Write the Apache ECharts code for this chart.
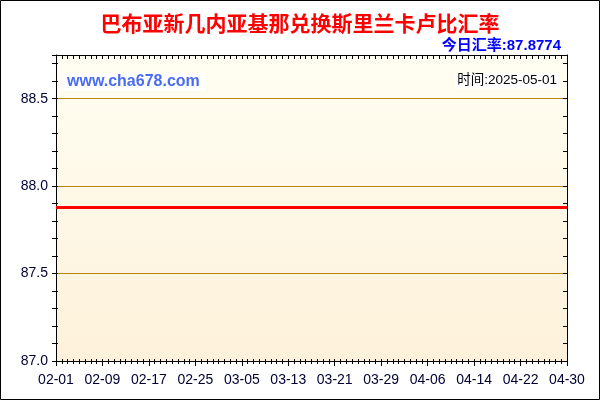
<!DOCTYPE html>
<html>
<head>
<meta charset="utf-8">
<script src="https://cdn.jsdelivr.net/npm/echarts@6/dist/echarts.min.js"></script>
<style>html,body{margin:0;padding:0;background:#fff;}#c{width:600px;height:400px;}</style>
</head>
<body>
<div id="c"></div>
<script>
var categories = [
'02-01','02-02','02-03','02-04','02-05','02-06','02-07','02-08','02-09','02-10',
'02-11','02-12','02-13','02-14','02-15','02-16','02-17','02-18','02-19','02-20',
'02-21','02-22','02-23','02-24','02-25','02-26','02-27','02-28',
'03-01','03-02','03-03','03-04','03-05','03-06','03-07','03-08','03-09','03-10',
'03-11','03-12','03-13','03-14','03-15','03-16','03-17','03-18','03-19','03-20',
'03-21','03-22','03-23','03-24','03-25','03-26','03-27','03-28','03-29','03-30','03-31',
'04-01','04-02','04-03','04-04','04-05','04-06','04-07','04-08','04-09','04-10',
'04-11','04-12','04-13','04-14','04-15','04-16','04-17','04-18','04-19','04-20',
'04-21','04-22','04-23','04-24','04-25','04-26','04-27','04-28','04-29','04-30'
];
var rates = [
87.8774,87.8774,87.8774,87.8774,87.8774,87.8774,87.8774,87.8774,87.8774,87.8774,
87.8774,87.8774,87.8774,87.8774,87.8774,87.8774,87.8774,87.8774,87.8774,87.8774,
87.8774,87.8774,87.8774,87.8774,87.8774,87.8774,87.8774,87.8774,
87.8774,87.8774,87.8774,87.8774,87.8774,87.8774,87.8774,87.8774,87.8774,87.8774,
87.8774,87.8774,87.8774,87.8774,87.8774,87.8774,87.8774,87.8774,87.8774,87.8774,
87.8774,87.8774,87.8774,87.8774,87.8774,87.8774,87.8774,87.8774,87.8774,87.8774,87.8774,
87.8774,87.8774,87.8774,87.8774,87.8774,87.8774,87.8774,87.8774,87.8774,87.8774,
87.8774,87.8774,87.8774,87.8774,87.8774,87.8774,87.8774,87.8774,87.8774,87.8774,
87.8774,87.8774,87.8774,87.8774,87.8774,87.8774,87.8774,87.8774,87.8774,87.8774
];
var yMin = 87.0, yMax = 88.75;
var titleText = '巴布亚新几内亚基那兑换斯里兰卡卢比汇率';
var todayText = '今日汇率:87.8774';
var siteText = 'www.cha678.com';
var timeText = '时间:2025-05-01';

var FONT = '"Liberation Sans", Arial, "Noto Sans CJK SC", sans-serif';
var chart = echarts.init(document.getElementById('c'), null, {renderer: 'canvas'});
var black = '#000';
function xa(extra){ return Object.assign({type:'category', data:categories, boundaryGap:false, gridIndex:0,
  axisLine:{show:false}, axisLabel:{show:false}, splitLine:{show:false}, axisTick:{show:false}}, extra); }
function ya(extra){ return Object.assign({type:'value', min:yMin, max:yMax, gridIndex:0,
  axisLine:{show:false}, axisLabel:{show:false}, splitLine:{show:false}, axisTick:{show:false}}, extra); }

chart.setOption({
  animation:false,
  backgroundColor:'#fff',
  title:[
    {text:titleText, left:'center', top:10, textStyle:{color:'#FF0000', fontSize:21, fontWeight:'bold', fontFamily:FONT}},
    {text:todayText, right:34, top:33, textStyle:{color:'#0000FF', fontSize:15, fontWeight:'bold', fontFamily:FONT}},
    {text:siteText, left:61, top:73, padding:[1,6,1,6], backgroundColor:'#fff', textStyle:{color:'#4A6CF0', fontSize:16, fontWeight:'bold', fontFamily:FONT}},
    {text:timeText, right:41, top:73, padding:[1,2,1,2], backgroundColor:'#fff', textStyle:{color:'#000', fontSize:13.5, fontWeight:'normal', fontFamily:FONT}}
  ],
  grid:{left:56, right:33, top:55, bottom:39, show:true, borderWidth:0,
    backgroundColor:new echarts.graphic.LinearGradient(0,0,0,1,[{offset:0,color:'#FFFEF2'},{offset:1,color:'#FDF1DA'}])},
  xAxis:[
    xa({position:'bottom', axisLine:{show:true, lineStyle:{color:black, width:1}},
        axisTick:{show:true, interval:0, length:3, lineStyle:{color:black}},
        axisLabel:{show:true, interval:7, color:'#000033', fontSize:14, fontFamily:FONT, margin:12}}),
    xa({position:'bottom', axisTick:{show:true, inside:true, interval:0, length:2, lineStyle:{color:black}}}),
    xa({position:'bottom', axisTick:{show:true, interval:7, length:5, lineStyle:{color:black}}}),
    xa({position:'top', axisLine:{show:true, lineStyle:{color:black}},
        axisTick:{show:true, inside:true, interval:0, length:4, lineStyle:{color:black}}})
  ],
  yAxis:[
    ya({position:'left', interval:0.5, axisLine:{show:true, lineStyle:{color:black}},
        axisLabel:{show:true, showMaxLabel:false, color:'#000033', fontSize:14, fontFamily:FONT, margin:8,
          formatter:function(v){ return (Math.abs(v*2-Math.round(v*2))<1e-6) ? v.toFixed(1) : ''; }},
        splitLine:{show:true, showMinLine:false, showMaxLine:false, lineStyle:{color:'#B8860B', width:1}}}),
    ya({position:'left', interval:0.1, axisTick:{show:true, length:4, lineStyle:{color:black}}}),
    ya({position:'left', interval:0.1, axisTick:{show:true, inside:true, length:2, lineStyle:{color:black}}}),
    ya({position:'right', interval:0.1, axisLine:{show:true, lineStyle:{color:black}},
        axisTick:{show:true, inside:true, length:4, lineStyle:{color:black}}})
  ],
  series:[{type:'line', xAxisIndex:0, yAxisIndex:0, data:rates, showSymbol:false, symbol:'none',
    lineStyle:{color:'#FF0000', width:3}, itemStyle:{color:'#FF0000'}, z:5}],
  graphic:[{type:'rect', shape:{x:0.5, y:0.5, width:599, height:399}, style:{fill:'none', stroke:'#000', lineWidth:1}, z:100}]
});
</script>
</body>
</html>
